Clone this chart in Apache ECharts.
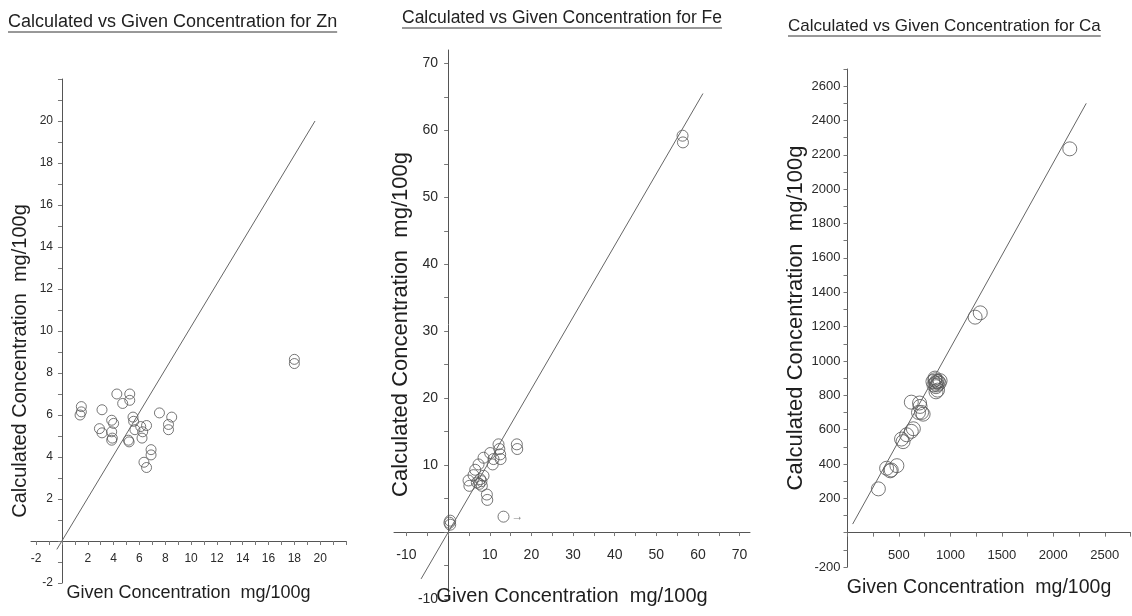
<!DOCTYPE html>
<html lang="en">
<head>
<meta charset="UTF-8">
<title>Calculated vs Given Concentration</title>
<script src="https://cdn.jsdelivr.net/npm/echarts@6.0.0/dist/echarts.min.js"></script>
<style>
    html, body { margin: 0; padding: 0; background: #fff; }
    #chart { width: 1132px; height: 616px; }
</style>
</head>
<body>
<div id="chart"></div>
<script>
// Zn  [given, calculated] mg/100g
const znPoints = [
    [1.5, 6.4], [1.5, 6.15], [1.4, 6.0], [3.1, 6.25], [2.9, 5.35], [3.1, 5.15],
    [3.85, 5.75], [4.0, 5.6], [3.85, 5.2], [3.85, 4.8], [3.9, 4.9], [4.25, 7.0],
    [4.7, 6.55], [5.25, 7.0], [5.25, 6.7], [5.15, 4.8], [5.2, 4.72], [5.5, 5.9],
    [5.55, 5.7], [5.65, 5.3], [6.1, 5.45], [6.25, 5.2], [6.2, 4.9], [6.55, 5.5],
    [6.9, 4.35], [6.9, 4.1], [6.35, 3.75], [6.55, 3.5], [7.55, 6.1], [8.25, 5.55],
    [8.25, 5.3], [8.5, 5.9], [18.0, 8.65], [18.0, 8.45]
];
const znLine = [[-0.4, -0.4], [19.6, 20.0]];
const znXLabels = [-2, 2, 4, 6, 8, 10, 12, 14, 16, 18, 20];
const znYLabels = [-2, 2, 4, 6, 8, 10, 12, 14, 16, 18, 20];

// Fe
const fePoints = [
    [0.5, 1.7], [0.5, 1.1], [0.3, 1.4], [4.9, 7.7], [5.1, 6.9], [6.1, 8.5],
    [6.5, 9.3], [7.3, 10.1], [7.7, 7.9], [8.1, 6.9], [8.5, 8.4], [6.9, 7.4],
    [7.5, 7.2], [8.0, 7.6], [8.5, 11.1], [10.1, 11.8], [9.3, 5.6], [9.4, 4.8],
    [10.9, 10.9], [10.7, 10.1], [12.1, 13.1], [12.3, 12.4], [12.5, 11.6], [12.6, 10.9],
    [16.5, 13.1], [16.6, 12.4], [13.3, 2.3], [56.3, 59.2], [56.4, 58.2]
];
const feArrowIndex = 26;
const feLine = [[-6.5, -7.0], [61.2, 65.5]];
const feXLabels = [-10, 10, 20, 30, 40, 50, 60, 70];
const feYLabels = [-10, 10, 20, 30, 40, 50, 60, 70];

// Ca
const caPoints = [
    [300, 255], [380, 375], [415, 360], [425, 365], [480, 390], [525, 545],
    [540, 530], [575, 570], [620, 590], [640, 605], [620, 760], [700, 755],
    [705, 735], [720, 700], [735, 690], [690, 700], [830, 880], [840, 860],
    [850, 890], [855, 870], [860, 850], [865, 880], [870, 860], [875, 830],
    [880, 880], [850, 900], [890, 870], [900, 885], [860, 820], [1240, 1255],
    [1290, 1280], [2160, 2235]
];
const caLine = [[50, 50], [2320, 2500]];
const caXLabels = [500, 1000, 1500, 2000, 2500];
const caYLabels = [-200, 200, 400, 600, 800, 1000, 1200, 1400, 1600, 1800, 2000, 2200, 2400, 2600];

const titles = [
    'Calculated vs Given Concentration for Zn',
    'Calculated vs Given Concentration for Fe',
    'Calculated vs Given Concentration for Ca'
];
const xName = 'Given Concentration  mg/100g';
const yName = 'Calculated Concentration  mg/100g';

const FONT = '"Liberation Sans", Arial, sans-serif';

// plot boxes (px) and axis ranges for the three panels
const grids = [
    { left: 31, width: 315, top: 79, height: 504, x: [-2.4, 22], y: [-2, 22] },
    { left: 394, width: 356, top: 50, height: 549, x: [-13, 72.5], y: [-10, 72] },
    { left: 847.5, width: 283, top: 69, height: 498, x: [0, 2750], y: [-200, 2700] }
];

function steps(from, to, step) {
    const out = [];
    for (let v = from; v <= to + 1e-9; v += step) out.push(+v.toFixed(6));
    return out;
}

// axes cross at zero: shift each axis from the grid edge to the other axis' zero
function axis(o, isX) {
    const g = grids[o.grid];
    const r = isX ? g.y : g.x;
    const span = isX ? g.height : g.width;
    const shift = -span * (0 - r[0]) / (r[1] - r[0]);
    const range = isX ? g.x : g.y;
    return {
        type: 'value',
        gridIndex: o.grid,
        min: range[0],
        max: range[1],
        offset: shift,
        splitLine: { show: false },
        axisLine: { show: true, onZero: false, lineStyle: { color: '#555', width: 1 } },
        axisTick: { show: true, customValues: o.ticks, length: 4, lineStyle: { color: '#777' } },
        axisLabel: {
            customValues: o.labels, fontSize: o.fontSize, color: '#2a2a2a',
            margin: o.margin, fontFamily: FONT,
            formatter: function (v) { return String(v); }
        },
        name: o.name,
        nameLocation: 'middle',
        nameGap: o.nameGap,
        nameTextStyle: {
            fontSize: o.nameSize, color: '#1e1e1e', fontFamily: FONT,
            padding: o.namePad || 0
        }
    };
}

function scatter(i, data, size) {
    return {
        type: 'scatter', xAxisIndex: i, yAxisIndex: i, data: data,
        symbol: 'circle', symbolSize: size,
        itemStyle: { color: 'rgba(0,0,0,0)', borderColor: '#555', borderWidth: 1 },
        silent: true
    };
}

function diag(i, data) {
    return {
        type: 'line', xAxisIndex: i, yAxisIndex: i, data: data,
        symbol: 'none', silent: true,
        lineStyle: { color: '#666', width: 1 }
    };
}

const chart = echarts.init(document.getElementById('chart'));

// titles with underline
const ctx = document.createElement('canvas').getContext('2d');
const titleSpec = [
    { x: 8, y: 22, size: 18 },
    { x: 402, y: 18, size: 17.5 },
    { x: 788, y: 26, size: 17 }
];
const graphics = [];
titleSpec.forEach((t, i) => {
    const font = t.size + 'px ' + FONT;
    ctx.font = font;
    const w = ctx.measureText(titles[i]).width;
    graphics.push({
        type: 'text', x: t.x, y: t.y,
        style: { text: titles[i], font: font, fill: '#222', verticalAlign: 'middle' }
    });
    graphics.push({
        type: 'line',
        shape: { x1: t.x, y1: t.y + 10, x2: t.x + w, y2: t.y + 10 },
        style: { stroke: '#333', lineWidth: 1 }
    });
});

const feData = fePoints.map((p, i) => i === feArrowIndex
    ? { value: p, label: { show: true, formatter: '\u2192', position: 'right', distance: 2, color: '#666', fontSize: 12 } }
    : p);

chart.setOption({
    animation: false,
    backgroundColor: '#fff',
    graphic: graphics,
    grid: grids.map(g => ({
        left: g.left, width: g.width, top: g.top, height: g.height,
        outerBoundsMode: 'none', containLabel: false
    })),
    xAxis: [
        axis({ grid: 0, ticks: steps(-2, 22, 1), labels: znXLabels,
               fontSize: 12, margin: 12, name: xName, nameGap: 43, nameSize: 18 }, true),
        axis({ grid: 1, ticks: steps(-10, 70, 5), labels: feXLabels,
               fontSize: 14, margin: 16, name: xName, nameGap: 54, nameSize: 20 }, true),
        axis({ grid: 2, ticks: steps(0, 2750, 250), labels: caXLabels,
               fontSize: 13, margin: 16, name: xName, nameGap: 45, nameSize: 19.5,
               namePad: [0, 20, 0, 0] }, true)
    ],
    yAxis: [
        axis({ grid: 0, ticks: steps(-2, 22, 1), labels: znYLabels,
               fontSize: 12, margin: 9, name: yName, nameGap: 31, nameSize: 20,
               namePad: [0, 60, 0, 0] }, false),
        axis({ grid: 1, ticks: steps(-10, 70, 5), labels: feYLabels,
               fontSize: 14, margin: 10, name: yName, nameGap: 36, nameSize: 22 }, false),
        axis({ grid: 2, ticks: steps(-200, 2700, 100), labels: caYLabels,
               fontSize: 13, margin: 7, name: yName, nameGap: 41, nameSize: 22 }, false)
    ],
    series: [
        diag(0, znLine), scatter(0, znPoints, 10),
        diag(1, feLine), scatter(1, feData, 11),
        diag(2, caLine), scatter(2, caPoints, 14)
    ]
});

window.onresize = function () { chart.resize(); };
</script>
</body>
</html>
